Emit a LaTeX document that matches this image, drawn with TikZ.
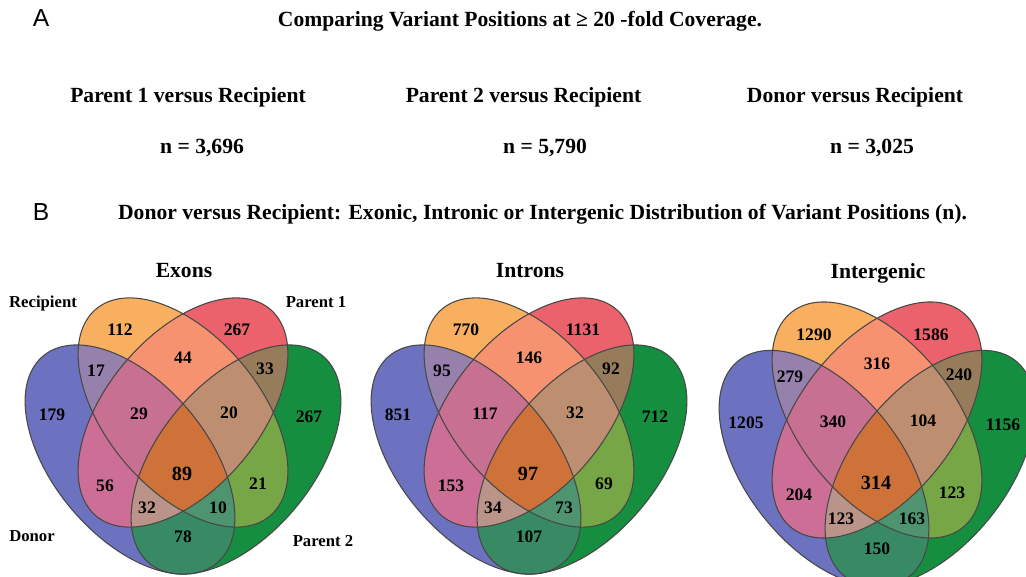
\documentclass[tikz,border=0pt]{standalone}
\usepackage{fontspec}
\setmainfont{Liberation Serif}
\newfontfamily\panelfont{Liberation Sans}
\usepackage{xcolor}

\definecolor{cB}{RGB}{108,114,192}
\definecolor{cO}{RGB}{248,176,96}
\definecolor{cR}{RGB}{236,98,108}
\definecolor{cG}{RGB}{22,142,64}
\definecolor{cBO}{RGB}{150,128,172}
\definecolor{cBR}{RGB}{205,110,150}
\definecolor{cBG}{RGB}{56,138,100}
\definecolor{cOR}{RGB}{246,146,112}
\definecolor{cOG}{RGB}{118,166,70}
\definecolor{cRG}{RGB}{150,124,90}
\definecolor{cBOR}{RGB}{200,112,146}
\definecolor{cBOG}{RGB}{78,148,112}
\definecolor{cBRG}{RGB}{186,148,136}
\definecolor{cORG}{RGB}{190,142,112}
\definecolor{cAll}{RGB}{206,114,58}

\tikzset{
  petalB/.style={shift={(-0.144,-0.117)}, rotate=-45},
  petalO/.style={rotate=-45},
  petalR/.style={rotate=45},
  petalG/.style={shift={(0.144,-0.117)}, rotate=45},
  rim/.style={draw=black!72, line width=0.6pt},
  num/.style={font=\bfseries\fontsize{10}{12}\selectfont, inner sep=0pt},
  core/.style={font=\bfseries\fontsize{11.5}{13}\selectfont, inner sep=0pt},
  head/.style={font=\bfseries\fontsize{12.3}{14}\selectfont, anchor=base, inner sep=0pt},
  setname/.style={font=\bfseries\fontsize{9.5}{11}\selectfont, anchor=base, inner sep=0pt},
  panel/.style={font=\panelfont\fontsize{14}{16}\selectfont, anchor=base, inner sep=0pt}
}

\newcommand{\petal}{(0,0) ellipse (0.35 and 0.2)}

% four ellipses, one fill per region
\newcommand{\vennbody}{%
  \begin{scope}[xscale=368, yscale=402]
    % one set
    \fill[cB, petalB] \petal;
    \fill[cO, petalO] \petal;
    \fill[cR, petalR] \petal;
    \fill[cG, petalG] \petal;
    % two sets
    \begin{scope} \clip[petalB] \petal; \fill[cBO, petalO] \petal; \end{scope}
    \begin{scope} \clip[petalB] \petal; \fill[cBR, petalR] \petal; \end{scope}
    \begin{scope} \clip[petalB] \petal; \fill[cBG, petalG] \petal; \end{scope}
    \begin{scope} \clip[petalO] \petal; \fill[cOR, petalR] \petal; \end{scope}
    \begin{scope} \clip[petalO] \petal; \fill[cOG, petalG] \petal; \end{scope}
    \begin{scope} \clip[petalR] \petal; \fill[cRG, petalG] \petal; \end{scope}
    % three sets
    \begin{scope} \clip[petalB] \petal; \clip[petalO] \petal; \fill[cBOR, petalR] \petal; \end{scope}
    \begin{scope} \clip[petalB] \petal; \clip[petalO] \petal; \fill[cBOG, petalG] \petal; \end{scope}
    \begin{scope} \clip[petalB] \petal; \clip[petalR] \petal; \fill[cBRG, petalG] \petal; \end{scope}
    \begin{scope} \clip[petalO] \petal; \clip[petalR] \petal; \fill[cORG, petalG] \petal; \end{scope}
    % four sets
    \begin{scope} \clip[petalB] \petal; \clip[petalO] \petal; \clip[petalR] \petal; \fill[cAll, petalG] \petal; \end{scope}
    % outlines
    \draw[rim, petalB] \petal;
    \draw[rim, petalO] \petal;
    \draw[rim, petalR] \petal;
    \draw[rim, petalG] \petal;
  \end{scope}
  % region centres
  \coordinate (B) at (-131,-2.5);
  \coordinate (O) at (-63,82.5);
  \coordinate (R) at (54,82.5);
  \coordinate (G) at (126,-4.5);
  \coordinate (BO) at (-87,42);
  \coordinate (OR) at (0,55);
  \coordinate (RG) at (82,43.5);
  \coordinate (BG) at (0,-124.5);
  \coordinate (BR) at (-78,-73);
  \coordinate (OG) at (75,-71);
  \coordinate (BOR) at (-44,-1.5);
  \coordinate (ORG) at (46,-0.5);
  \coordinate (BRG) at (-36,-95.5);
  \coordinate (BOG) at (35,-95.5);
  \coordinate (All) at (-1,-61);
}

\begin{document}
\begin{tikzpicture}[x=0.02cm, y=0.02cm]
  \useasboundingbox (0,0) rectangle (1026,577);
  \fill[white] (0,0) rectangle (1026,577);
  \clip (0,0) rectangle (1026,577);

  % panel A
  \node[panel] (panelA) at (41,550) {A};
  \node[head] (titleA) at (520,550) {Comparing Variant Positions at ≥ 20 -fold Coverage.};
  \node[head] (headP1) at (188,474) {Parent 1 versus Recipient};
  \node[head] (headP2) at (523.5,474) {Parent 2 versus Recipient};
  \node[head] (headD) at (855,474) {Donor versus Recipient};
  \node[head] (nP1) at (202,423) {n = 3,696};
  \node[head] (nP2) at (545,423) {n = 5,790};
  \node[head] (nD) at (872,423) {n = 3,025};

  % panel B
  \node[panel] (panelB) at (41,356) {B};
  \node[head] (titleB) at (542.5,357) {Donor versus Recipient: Exonic, Intronic or Intergenic Distribution of Variant Positions (n).};

  % Exons
  \begin{scope}[shift={(183,164.5)}, name prefix=ex-]
    \vennbody
    \foreach \r/\n in {B/179, O/112, R/267, G/267, BO/17, OR/44, RG/33, BG/78,
                       BR/56, OG/21, BOR/29, ORG/20, BRG/32, BOG/10}
      \node[num] (n\r) at (\r) {\n};
    \node[core] (nAll) at (All) {89};
  \end{scope}
  \node[head] (titleEx) at (184,299) {Exons};
  \node[setname] (lblRecipient) at (43,269) {Recipient};
  \node[setname] (lblParentA) at (316,269) {Parent 1};
  \node[setname] (lblDonor) at (32,35) {Donor};
  \node[setname] (lblParentB) at (323,30) {Parent 2};

  % Introns
  \begin{scope}[shift={(529,164.5)}, name prefix=in-]
    \vennbody
    \foreach \r/\n in {B/851, O/770, R/1131, G/712, BO/95, OR/146, RG/92, BG/107,
                       BR/153, OG/69, BOR/117, ORG/32, BRG/34, BOG/73}
      \node[num] (n\r) at (\r) {\n};
    \node[core] (nAll) at (All) {97};
  \end{scope}
  \node[head] (titleIn) at (530,299) {Introns};

  % Intergenic
  \begin{scope}[shift={(877,157)}, yscale=1.03, name prefix=ig-]
    \vennbody
    \foreach \r/\n in {B/1205, O/1290, R/1586, G/1156, BO/279, OR/316, RG/240, BG/150,
                       BR/204, OG/123, BOR/340, ORG/104, BRG/123, BOG/163}
      \node[num] (n\r) at (\r) {\n};
    \node[core] (nAll) at (All) {314};
  \end{scope}
  \node[head] (titleIg) at (878,298) {Intergenic};
\end{tikzpicture}
\end{document}
